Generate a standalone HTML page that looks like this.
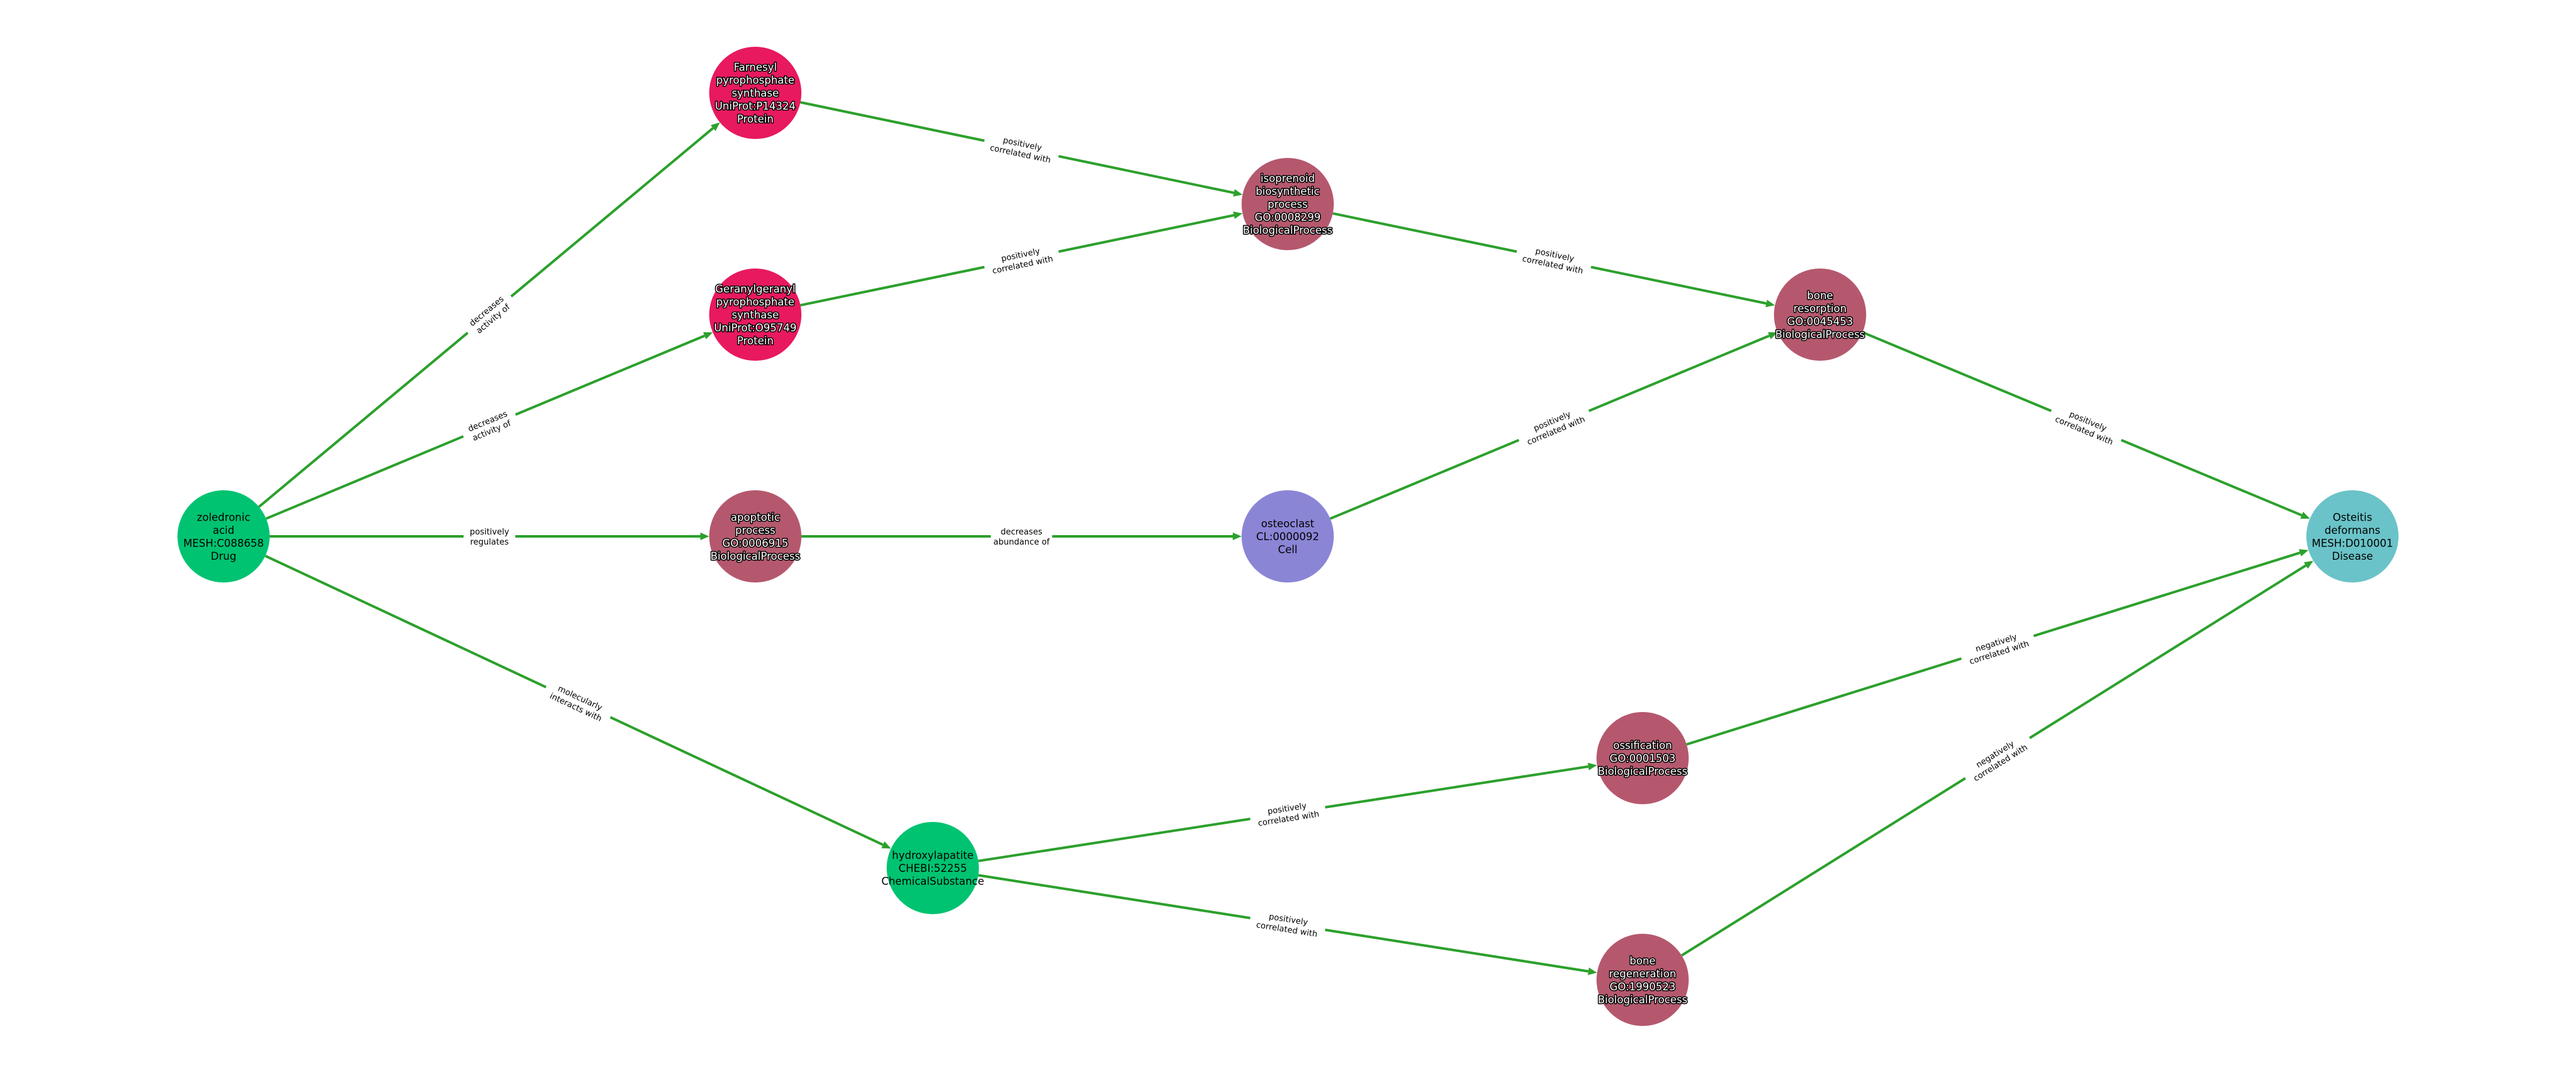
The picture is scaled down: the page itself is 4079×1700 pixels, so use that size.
<!DOCTYPE html>
<html><head><meta charset="utf-8"><style>
html,body{margin:0;padding:0;background:#fff;width:4079px;height:1700px;overflow:hidden}
svg{display:block}
.nt{font-family:"DejaVu Sans","Liberation Sans",sans-serif;font-size:16.5px;text-anchor:middle}
.w{fill:#fff;stroke:#000;stroke-width:3px;paint-order:stroke;stroke-linejoin:round}
.b{fill:#000}
.el{font-family:"DejaVu Sans","Liberation Sans",sans-serif;font-size:13px;text-anchor:middle;fill:#000}
</style></head><body>
<svg id="s" width="4079" height="1700" xmlns="http://www.w3.org/2000/svg"></svg>
<script>
const N={
zol:[354,849,'#00C371',['zoledronic','acid','MESH:C088658','Drug'],'b'],
far:[1196,147,'#E8195E',['Farnesyl','pyrophosphate','synthase','UniProt:P14324','Protein'],'w'],
ger:[1196,498,'#E8195E',['Geranylgeranyl','pyrophosphate','synthase','UniProt:O95749','Protein'],'w'],
apo:[1196,849,'#B5586E',['apoptotic','process','GO:0006915','BiologicalProcess'],'w'],
hyd:[1477,1374,'#00C371',['hydroxylapatite','CHEBI:52255','ChemicalSubstance'],'b'],
iso:[2039,323,'#B5586E',['isoprenoid','biosynthetic','process','GO:0008299','BiologicalProcess'],'w'],
ost:[2039,849,'#8B85D6',['osteoclast','CL:0000092','Cell'],'b'],
bres:[2882,498,'#B5586E',['bone','resorption','GO:0045453','BiologicalProcess'],'w'],
oss:[2601,1200,'#B5586E',['ossification','GO:0001503','BiologicalProcess'],'w'],
breg:[2601,1551,'#B5586E',['bone','regeneration','GO:1990523','BiologicalProcess'],'w'],
oste:[3725,849,'#6AC3C8',['Osteitis','deformans','MESH:D010001','Disease'],'b']
};
const E=[
['zol','far',['decreases','activity of']],
['zol','ger',['decreases','activity of']],
['zol','apo',['positively','regulates']],
['zol','hyd',['molecularly','interacts with']],
['far','iso',['positively','correlated with']],
['ger','iso',['positively','correlated with']],
['apo','ost',['decreases','abundance of']],
['iso','bres',['positively','correlated with']],
['ost','bres',['positively','correlated with']],
['bres','oste',['positively','correlated with']],
['hyd','oss',['positively','correlated with']],
['hyd','breg',['positively','correlated with']],
['oss','oste',['negatively','correlated with']],
['breg','oste',['negatively','correlated with']]
];
const R=73,C='#2CA02C';let h='';
for(const [a,b,l] of E){const [x1,y1]=N[a],[x2,y2]=N[b];const dx=x2-x1,dy=y2-y1,d=Math.hypot(dx,dy),ux=dx/d,uy=dy/d;
const sx=x1+ux*R,sy=y1+uy*R,ex=x2-ux*R,ey=y2-uy*R;const bx=ex-ux*14,by=ey-uy*14;
h+=`<line x1="${sx}" y1="${sy}" x2="${bx}" y2="${by}" stroke="${C}" stroke-width="4"/>`;
h+=`<polygon points="${ex},${ey} ${bx-uy*6},${by+ux*6} ${bx+uy*6},${by-ux*6}" fill="${C}"/>`;}
for(const [a,b,l] of E){const [x1,y1]=N[a],[x2,y2]=N[b];const mx=(x1+x2)/2,my=(y1+y2)/2;let ang=Math.atan2(y2-y1,x2-x1)*180/Math.PI;
const w=Math.max(...l.map(s=>s.length))*7.6+6;
h+=`<g transform="translate(${mx},${my}) rotate(${ang})"><rect x="${-w/2}" y="-17" width="${w}" height="34" fill="#fff"/><text class="el" y="-3">${l[0]}</text><text class="el" y="13">${l[1]}</text></g>`;}
for(const k in N){const [x,y,c,t,s]=N[k];h+=`<circle cx="${x}" cy="${y}" r="${R}" fill="${c}"/>`;
const n=t.length,lh=20.5,y0=y-(n-1)*lh/2+6;t.forEach((s2,i)=>{h+=`<text class="nt ${s}" x="${x}" y="${y0+i*lh}">${s2}</text>`;});}
document.getElementById('s').innerHTML=h;
</script>
</body></html>
